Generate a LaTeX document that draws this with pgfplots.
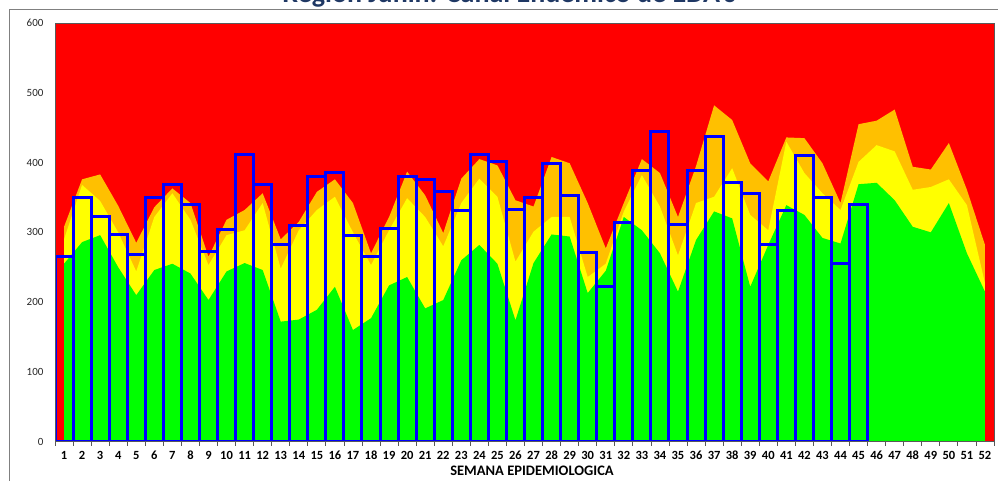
\documentclass[border=0pt]{standalone}
\usepackage{fontspec}
\setmainfont{Carlito}
\usepackage{pgfplots}
\pgfplotsset{compat=1.18}
\definecolor{zred}{HTML}{FF0000}
\definecolor{zorange}{HTML}{FFC000}
\definecolor{zyellow}{HTML}{FFFF00}
\definecolor{zgreen}{HTML}{00FF00}
\definecolor{zblue}{HTML}{0000FF}
\definecolor{titleblue}{HTML}{1F3864}
\definecolor{frame}{HTML}{808080}
\begin{document}
\begin{tikzpicture}[x=1pt,y=1pt]
\useasboundingbox (0,0) rectangle (998,480);
\clip (0,0) rectangle (998,480);
% chart border and title (cut at the top as in the screenshot)
\draw[frame, line width=1pt] (9.5,-5) -- (9.5,470.5) -- (1010,470.5);
\node[anchor=base, text=titleblue, font=\bfseries\fontsize{28}{30}\selectfont]
  at (509,477) {Región Junín: Canal Endémico de EDA's};
\begin{axis}[
    at={(55pt,38.3pt)}, anchor=south west,
    width=939pt, height=418.7pt, scale only axis,
    xmin=0.5, xmax=52.5, ymin=0, ymax=600,
    axis background/.style={fill=zred},
    axis line style={gray!70!black, line width=0.8pt},
    /pgf/number format/assume math mode=true,
    xtick={1,...,52},
    minor xtick={0.5,1.5,...,52.5},
    major tick length=0pt,
    minor tick length=4pt,
    tick align=outside,
    xtick pos=bottom, ytick pos=left,
    minor tick style={gray!70!black, line width=0.8pt},
    xticklabel style={font=\bfseries\fontsize{12.5}{14}\selectfont, yshift=-6pt},
    ytick={0,100,...,600},
    yticklabel style={font=\fontsize{11}{13}\selectfont, text=black!85, xshift=-8pt},
    xlabel={SEMANA EPIDEMIOLOGICA},
    xlabel style={at={(rel axis cs:0.508,0)}, anchor=center, yshift=-29.5pt,
                  font=\bfseries\fontsize{14.5}{16}\selectfont},
    axis on top,
  ]
  % upper band (orange)
  \addplot[fill=zorange, draw=none] coordinates {
    (1,308) (2,376) (3,383) (4,338) (5,285) (6,336) (7,363) (8,342) (9,265) (10,318)
    (11,332) (12,356) (13,290) (14,315) (15,358) (16,376) (17,342) (18,270) (19,322) (20,387)
    (21,353) (22,299) (23,377) (24,405) (25,396) (26,346) (27,337) (28,408) (29,399) (30,342)
    (31,277) (32,342) (33,405) (34,385) (35,322) (36,395) (37,482) (38,461) (39,399) (40,373)
    (41,436) (42,435) (43,399) (44,342) (45,455) (46,460) (47,476) (48,394) (49,390) (50,428)
    (51,361) (52,282)
  } \closedcycle;
  % alert band (yellow)
  \addplot[fill=zyellow, draw=none] coordinates {
    (1,290) (2,368) (3,345) (4,300) (5,244) (6,322) (7,356) (8,318) (9,253) (10,296)
    (11,303) (12,342) (13,248) (14,303) (15,332) (16,351) (17,300) (18,253) (19,303) (20,349)
    (21,322) (22,280) (23,342) (24,377) (25,351) (26,258) (27,301) (28,322) (29,322) (30,236)
    (31,255) (32,330) (33,382) (34,337) (35,267) (36,342) (37,351) (38,392) (39,325) (40,303)
    (41,430) (42,385) (43,356) (44,332) (45,401) (46,425) (47,416) (48,361) (49,365) (50,376)
    (51,339) (52,227)
  } \closedcycle;
  % security band (green)
  \addplot[fill=zgreen, draw=none] coordinates {
    (1,255) (2,286) (3,296) (4,250) (5,210) (6,246) (7,255) (8,241) (9,203) (10,244)
    (11,256) (12,246) (13,172) (14,175) (15,189) (16,222) (17,160) (18,177) (19,224) (20,236)
    (21,191) (22,203) (23,260) (24,282) (25,255) (26,174) (27,256) (28,297) (29,294) (30,213)
    (31,245) (32,322) (33,303) (34,270) (35,215) (36,289) (37,330) (38,320) (39,222) (40,282)
    (41,339) (42,325) (43,292) (44,284) (45,369) (46,371) (47,346) (48,308) (49,300) (50,342)
    (51,270) (52,215)
  } \closedcycle;
  % cases per week (outlined bars)
  \addplot[ybar, bar width=1, draw=zblue, fill=none, line width=3pt] coordinates {
    (1,265) (2,350) (3,322) (4,297) (5,268) (6,350) (7,369) (8,340) (9,273) (10,304)
    (11,412) (12,368) (13,283) (14,310) (15,380) (16,386) (17,295) (18,266) (19,306) (20,380)
    (21,376) (22,358) (23,331) (24,411) (25,401) (26,333) (27,350) (28,399) (29,353) (30,271)
    (31,223) (32,314) (33,389) (34,445) (35,311) (36,389) (37,438) (38,371) (39,355) (40,283)
    (41,332) (42,410) (43,350) (44,256) (45,340)
  };
\end{axis}
\end{tikzpicture}
\end{document}
